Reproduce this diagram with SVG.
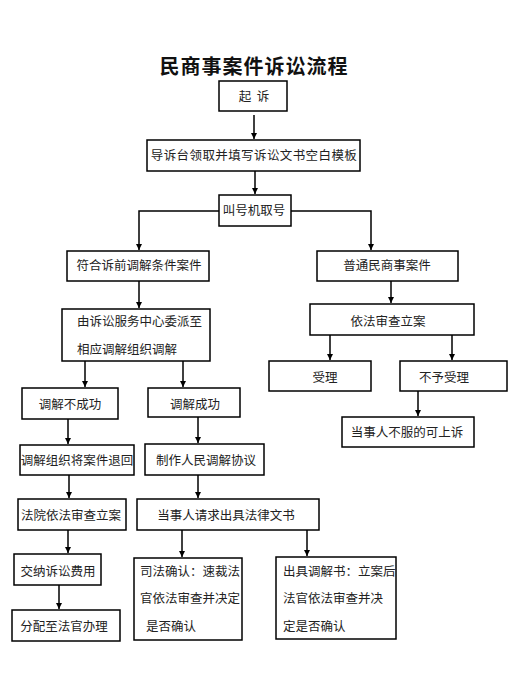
<svg xmlns="http://www.w3.org/2000/svg" width="522" height="676" viewBox="0 0 522 676">
<style>
.b{fill:#fff;stroke:#000;stroke-width:1.5}
.t{font-family:"Noto Sans CJK SC","Noto Sans",sans-serif;font-size:12.5px;fill:#222;text-anchor:middle}
.l{text-anchor:start}
.c{fill:none;stroke:#000;stroke-width:1.5}
</style>
<defs>
<marker id="a" markerWidth="7" markerHeight="7" refX="6" refY="3.5" orient="auto" markerUnits="userSpaceOnUse">
<path d="M0,0.5 L6,3.5 L0,6.5 z" fill="#000"/>
</marker>
</defs>
<rect width="522" height="676" fill="#fff"/>
<text x="254" y="74" style="font-family:'Noto Sans CJK SC',sans-serif;font-size:20px;font-weight:bold;text-anchor:middle;fill:#111" letter-spacing="1">民商事案件诉讼流程</text>

<g id="connectors">
<path class="c" d="M254,115 V139" marker-end="url(#a)"/>
<path class="c" d="M255,171 V194" marker-end="url(#a)"/>
<path class="c" d="M219,211 H139 V250" marker-end="url(#a)"/>
<path class="c" d="M291,211 H371 V250" marker-end="url(#a)"/>
<path class="c" d="M139,281 V308" marker-end="url(#a)"/>
<path class="c" d="M391,281 V303" marker-end="url(#a)"/>
<path class="c" d="M330,335 V360" marker-end="url(#a)"/>
<path class="c" d="M452,335 V360" marker-end="url(#a)"/>
<path class="c" d="M418,391 V416" marker-end="url(#a)"/>
<path class="c" d="M85,361 V387" marker-end="url(#a)"/>
<path class="c" d="M183,361 V387" marker-end="url(#a)"/>
<path class="c" d="M68,419 V444" marker-end="url(#a)"/>
<path class="c" d="M198,417 V443" marker-end="url(#a)"/>
<path class="c" d="M69,475 V498" marker-end="url(#a)"/>
<path class="c" d="M198,475 V498" marker-end="url(#a)"/>
<path class="c" d="M68,530 V553" marker-end="url(#a)"/>
<path class="c" d="M59,585 V609" marker-end="url(#a)"/>
<path class="c" d="M182,530 V557" marker-end="url(#a)"/>
<path class="c" d="M307,530 V556" marker-end="url(#a)"/>
</g>

<g id="n1"><rect class="b" x="219" y="81" width="68" height="30"/><text class="t" x="254" y="101" xml:space="preserve">起  诉</text></g>
<g id="n2"><rect class="b" x="147" y="140" width="213" height="31"/><text class="t" x="254" y="160" letter-spacing="0.4">导诉台领取并填写诉讼文书空白模板</text></g>
<g id="n3"><rect class="b" x="219" y="195" width="72" height="31"/><text class="t" x="254" y="215">叫号机取号</text></g>
<g id="n4"><rect class="b" x="67" y="251" width="142" height="30"/><text class="t" x="139" y="270">符合诉前调解条件案件</text></g>
<g id="n5"><rect class="b" x="317" y="251" width="141" height="30"/><text class="t" x="387" y="270">普通民商事案件</text></g>
<g id="n6"><rect class="b" x="62" y="309" width="148" height="52"/><text class="t l" x="77" y="326">由诉讼服务中心委派至</text><text class="t l" x="77" y="354">相应调解组织调解</text></g>
<g id="n7"><rect class="b" x="310" y="304" width="164" height="31"/><text class="t" x="388" y="326">依法审查立案</text></g>
<g id="n8"><rect class="b" x="269" y="361" width="102" height="30"/><text class="t" x="325" y="382">受理</text></g>
<g id="n9"><rect class="b" x="400" y="361" width="107" height="30"/><text class="t" x="444" y="382">不予受理</text></g>
<g id="n10"><rect class="b" x="342" y="417" width="132" height="30"/><text class="t" x="407" y="437">当事人不服的可上诉</text></g>
<g id="n11"><rect class="b" x="22" y="388" width="96" height="31"/><text class="t" x="70" y="409">调解不成功</text></g>
<g id="n12"><rect class="b" x="148" y="388" width="92" height="29"/><text class="t" x="195" y="409">调解成功</text></g>
<g id="n13"><rect class="b" x="20" y="445" width="114" height="30"/><text class="t" x="77" y="465">调解组织将案件退回</text></g>
<g id="n14"><rect class="b" x="145" y="444" width="119" height="31"/><text class="t" x="206" y="465">制作人民调解协议</text></g>
<g id="n15"><rect class="b" x="18" y="499" width="108" height="31"/><text class="t" x="71" y="520">法院依法审查立案</text></g>
<g id="n16"><rect class="b" x="137" y="499" width="182" height="31"/><text class="t" x="226" y="520">当事人请求出具法律文书</text></g>
<g id="n17"><rect class="b" x="14" y="554" width="87" height="31"/><text class="t" x="58" y="576">交纳诉讼费用</text></g>
<g id="n18"><rect class="b" x="12" y="610" width="108" height="31"/><text class="t" x="64" y="631">分配至法官办理</text></g>
<g id="n19"><rect class="b" x="134" y="558" width="108" height="82"/><text class="t l" x="140" y="576">司法确认：速裁法</text><text class="t l" x="140" y="603">官依法审查并决定</text><text class="t l" x="146" y="631">是否确认</text></g>
<g id="n20"><rect class="b" x="276" y="557" width="120" height="82"/><text class="t l" x="283" y="576">出具调解书：立案后</text><text class="t l" x="283" y="603">法官依法审查并决</text><text class="t l" x="283" y="631">定是否确认</text></g>
</svg>
